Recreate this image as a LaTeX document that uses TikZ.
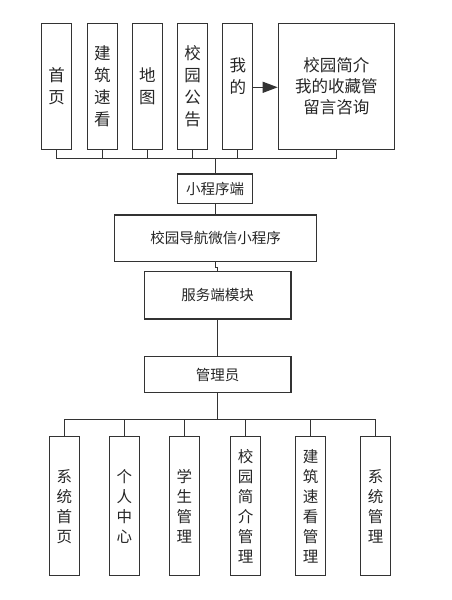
\documentclass[tikz,border=0pt]{standalone}
\usepackage{fontspec}
\newfontfamily\cjk{Noto Sans CJK SC}
\usepackage{tikz}
\usetikzlibrary{arrows.meta}

\begin{document}
\begin{tikzpicture}[x=1pt, y=-1pt, line width=1.2pt,
  box/.style={draw=black!80, inner sep=0pt, align=center, text=black!85},
  topcol/.style={box, minimum width=30pt, minimum height=126pt, font=\cjk\fontsize{16.5}{22}\selectfont},
  lowcol/.style={box, minimum width=30pt, minimum height=139pt, font=\cjk\fontsize{15.5}{20}\selectfont},
  midbox/.style={box, font=\cjk\fontsize{14.5}{17}\selectfont},
  link/.style={draw=black!80}]
\useasboundingbox (0,0) rectangle (452,600);
\node at (56.7, 86.3) [topcol] (home) {首\\页};
\node at (102.3, 86.3) [topcol] (build) {建\\筑\\速\\看};
\node at (147.3, 86.3) [topcol] (map) {地\\图};
\node at (192.7, 86.3) [topcol] (notice) {校\\园\\公\\告};
\node at (237.8, 86.3) [topcol] (mine) {};
\node at (237.8, 76) [box, draw=none, font=\cjk\fontsize{16.5}{22}\selectfont] (mineText) {我\\的};
\node at (336.3, 86.3) [box, minimum width=116pt, minimum height=126pt, font=\cjk\fontsize{16.5}{21}\selectfont] (intro) {校园简介\\我的收藏管\\留言咨询};
\coordinate (topbus) at (215.7, 158.3);
\node at (215.2, 188.7) [midbox, minimum width=75pt, minimum height=29.3pt] (mini) {小程序端};
\node at (215.5, 238.3) [midbox, minimum width=202.4pt, minimum height=46.7pt] (nav) {校园导航微信小程序};
\node at (217.7, 295.3) [midbox, minimum width=146.7pt, minimum height=47.3pt] (server) {服务端模块};
\node at (217.7, 374.7) [midbox, minimum width=146.7pt, minimum height=36pt] (admin) {管理员};
\coordinate (lowbus) at (217.7, 419.3);
\node at (64.3, 506.3) [lowcol] (syshome) {系\\统\\首\\页};
\node at (124.3, 506.3) [lowcol] (center) {个\\人\\中\\心};
\node at (184.3, 506.3) [lowcol] (student) {学\\生\\管\\理};
\node at (245.7, 506.3) [lowcol] (introAdm) {校\\园\\简\\介\\管\\理};
\node at (310.7, 506.3) [lowcol] (buildAdm) {建\\筑\\速\\看\\管\\理};
\node at (375.7, 506.3) [lowcol] (sysAdm) {系\\统\\管\\理};
\draw [link, -{Triangle[length=15pt, width=11pt]}] (mine.east |- 0,87.3) to (intro.west |- 0,87.3);
\draw [link] (home.south) -- (home.south |- topbus) -- (intro.south |- topbus) -- (intro.south);
\draw [link] (build.south) -- (build.south |- topbus);
\draw [link] (map.south) -- (map.south |- topbus);
\draw [link] (notice.south) -- (notice.south |- topbus);
\draw [link] (mine.south) -- (mine.south |- topbus);
\draw [link] (topbus) -- (topbus |- mini.north);
\draw [link] (mini.south) -- (mini.south |- nav.north);
\draw [link] (nav.south) -- ++(0,5) -| (server.north);
\draw [link] (server.south) -- (admin.north);
\draw [link] (admin.south) -- (lowbus);
\draw [link] (syshome.north) -- (syshome.north |- lowbus) -- (sysAdm.north |- lowbus) -- (sysAdm.north);
\draw [link] (center.north) -- (center.north |- lowbus);
\draw [link] (student.north) -- (student.north |- lowbus);
\draw [link] (introAdm.north) -- (introAdm.north |- lowbus);
\draw [link] (buildAdm.north) -- (buildAdm.north |- lowbus);
\end{tikzpicture}
\end{document}
